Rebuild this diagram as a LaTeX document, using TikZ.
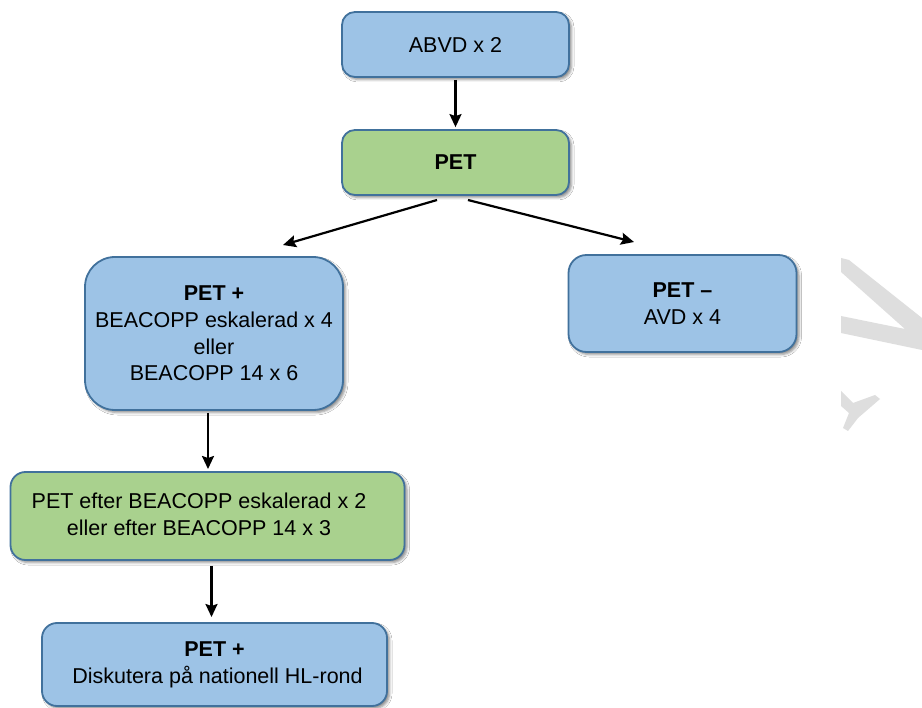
\documentclass[tikz,border=0pt]{standalone}
\usepackage{fontspec}
\setmainfont{Liberation Sans}
\usetikzlibrary{arrows.meta,shadows.blur}
\definecolor{boxblue}{HTML}{9DC3E6}
\definecolor{boxgreen}{HTML}{A9D18E}
\definecolor{edgeblue}{HTML}{41719C}
\definecolor{wmgray}{HTML}{DEDEDE}
\begin{document}
\begin{tikzpicture}[x=1pt,y=-1pt,
  boxbase/.style={draw=edgeblue, line width=1.8pt, align=center, inner sep=0pt,
    font=\fontsize{21.5}{26.7}\selectfont,
    blur shadow={shadow xshift=2.5pt, shadow yshift=-2.5pt, shadow blur radius=2.5pt, shadow opacity=45}},
  bluebox/.style={boxbase, fill=boxblue},
  greenbox/.style={boxbase, fill=boxgreen},
  conn/.style={line width=2.2pt, -{Stealth[length=13pt,width=12pt,inset=2pt]}},
  wm/.style={fill=wmgray, draw=none}]
\useasboundingbox[fill=white] (0,0) rectangle (922,708);

% watermark fragments
\fill[wm] (841,258) -- (849,260) -- (922,318) -- (922,350) -- (841,333) -- (841,316) -- (905,329) -- (841,272) -- cycle;
\fill[wm] (841,391) -- (853,403) -- (875,395) -- (880,399) -- (858,418) -- (848,431) -- (843,428) -- (849,413) -- (841,406) -- cycle;

% boxes
\node[bluebox, minimum width=227pt, minimum height=65pt, rounded corners=13pt] (abvd) at (455.5,44.5) {ABVD x 2};
\node[greenbox, minimum width=227pt, minimum height=65pt, rounded corners=13pt] (pet) at (455.5,162.5) {\textbf{PET}};
\node[bluebox, minimum width=258pt, minimum height=153pt, rounded corners=30pt] (petplus) at (214,333.5)
  {\textbf{PET +}\\BEACOPP eskalerad x 4\\eller\\BEACOPP 14 x 6};
\node[bluebox, minimum width=228pt, minimum height=97pt, rounded corners=18pt] (petminus) at (682.5,303.5)
  {\textbf{PET –}\\AVD x 4};
\node[greenbox, minimum width=394pt, minimum height=88pt, rounded corners=15pt] (pet2) at (207.5,516) {};
\node[align=center, inner sep=0pt, font=\fontsize{21.5}{27}\selectfont] (pet2t) at (199,514)
  {PET efter BEACOPP eskalerad x 2\\eller efter BEACOPP 14 x 3};
\node[bluebox, minimum width=345pt, minimum height=83pt, rounded corners=15pt] (final) at (214.5,664.5)
  {\textbf{PET +}\\\hspace*{6pt}Diskutera på nationell HL-rond};

% connectors
\coordinate (p1) at (437,200);
\coordinate (q1) at (283,245);
\coordinate (p2) at (468,200);
\coordinate (q2) at (634,242);
\coordinate (p3) at (208,413);
\coordinate (q3) at (208,469);
\coordinate (p4) at (211.5,566);
\coordinate (q4) at (211.5,617);

\draw[conn, shorten <=2pt, shorten >=2pt] (abvd.south) -- (pet.north);
\draw[conn] (p1) -- (q1);
\draw[conn] (p2) -- (q2);
\draw[conn] (p3) -- (q3);
\draw[conn] (p4) -- (q4);
\end{tikzpicture}
\end{document}
